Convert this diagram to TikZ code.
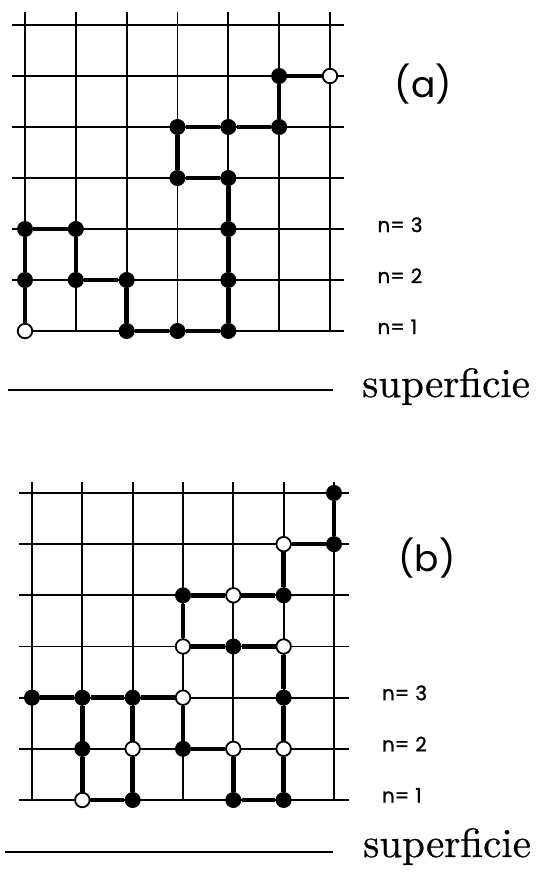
\documentclass[tikz,border=0pt]{standalone}
\usepackage{fontspec}
\usepackage{tikz}
\newfontfamily\tagfont{Poppins}
\newfontfamily\levelfont{Poppins}[FakeBold=1.2]
\newfontfamily\surffont{lmroman10-regular}[Extension=.otf, FakeBold=0.6]

\begin{document}
\begin{tikzpicture}[
  x=1pt, y=-1pt,
  gridline/.style={line width=1.7pt},
  bond/.style={line width=4.4pt},
  full/.style={circle, fill=black, inner sep=0pt, minimum size=16pt},
  empty/.style={circle, draw, fill=white, line width=1.8pt, inner sep=0pt, minimum size=14.5pt},
  tag/.style={font=\tagfont\fontsize{36}{36}\selectfont},
  level/.style={anchor=base west, inner sep=0pt, font=\levelfont\fontsize{20}{20}\selectfont},
  surf/.style={anchor=base west, inner sep=0pt, font=\surffont\fontsize{41}{41}\selectfont},
  floor/.style={line width=1.8pt},
]
\useasboundingbox (0,0) rectangle (543,873);

% panel (a)
\begin{scope}[shift={(25,331)}, x=50.83pt, y=51pt]
  \foreach \j in {1,...,6} \draw[gridline] (-0.26,\j) -- (6.28,\j);
  \draw[gridline] (0,0) -- (6.28,0);
  \foreach \i in {0,...,6} \draw[gridline] (\i,0) -- (\i,6.25);
  \foreach \i/\j/\s in {0/0/empty, 0/1/full, 0/2/full, 1/2/full, 1/1/full, 2/1/full,
      2/0/full, 3/0/full, 4/0/full, 4/1/full, 4/2/full, 4/3/full, 3/3/full, 3/4/full,
      4/4/full, 5/4/full, 5/5/full, 6/5/empty}
    \node[\s] (a\i\j) at (\i,\j) {};
  \foreach \p/\q in {00/01, 01/02, 02/12, 12/11, 11/21, 21/20, 20/30, 30/40, 40/41,
      41/42, 42/43, 43/33, 33/34, 34/44, 44/54, 54/55, 55/65}
    \draw[bond] (a\p) -- (a\q);
  \node[tag] (taga) at (7.84,4.84) {(a)};
  \foreach \n in {1,2,3}
    \node[level] (na\n) at (6.93,\n-1.06) {n=\hspace{0.3em}\n};
\end{scope}
\draw[floor] (8,390) -- (333,390);
\node[surf] (surfa) at (362,397) {superficie};

% panel (b)
\begin{scope}[shift={(32,800)}, x=50.33pt, y=51.17pt]
  \foreach \j in {0,...,6} \draw[gridline] (-0.25,\j) -- (6.3,\j);
  \foreach \i in {0,...,6} \draw[gridline] (\i,0) -- (\i,6.22);
  \foreach \i/\j/\s in {6/6/full, 5/5/empty, 6/5/full, 3/4/full, 4/4/empty, 5/4/full,
      3/3/empty, 4/3/full, 5/3/empty, 0/2/full, 1/2/full, 2/2/full, 3/2/empty, 5/2/full,
      1/1/full, 2/1/empty, 3/1/full, 4/1/empty, 5/1/empty, 1/0/empty, 2/0/full,
      4/0/full, 5/0/full}
    \node[\s] (b\i\j) at (\i,\j) {};
  \foreach \p/\q in {66/65, 55/65, 55/54, 34/44, 44/54, 34/33, 33/43, 43/53, 53/52,
      52/51, 51/50, 40/50, 40/41, 31/41, 31/32, 02/12, 12/22, 22/32, 12/11, 11/10,
      10/20, 20/21, 21/22}
    \draw[bond] (b\p) -- (b\q);
  \node[tag] (tagb) at (7.85,4.72) {(b)};
  \foreach \n in {1,2,3}
    \node[level] (nb\n) at (6.95,\n-1.05) {n=\hspace{0.3em}\n};
\end{scope}
\draw[floor] (5,852) -- (333,852);
\node[surf] (surfb) at (363,857) {superficie};
\end{tikzpicture}
\end{document}
